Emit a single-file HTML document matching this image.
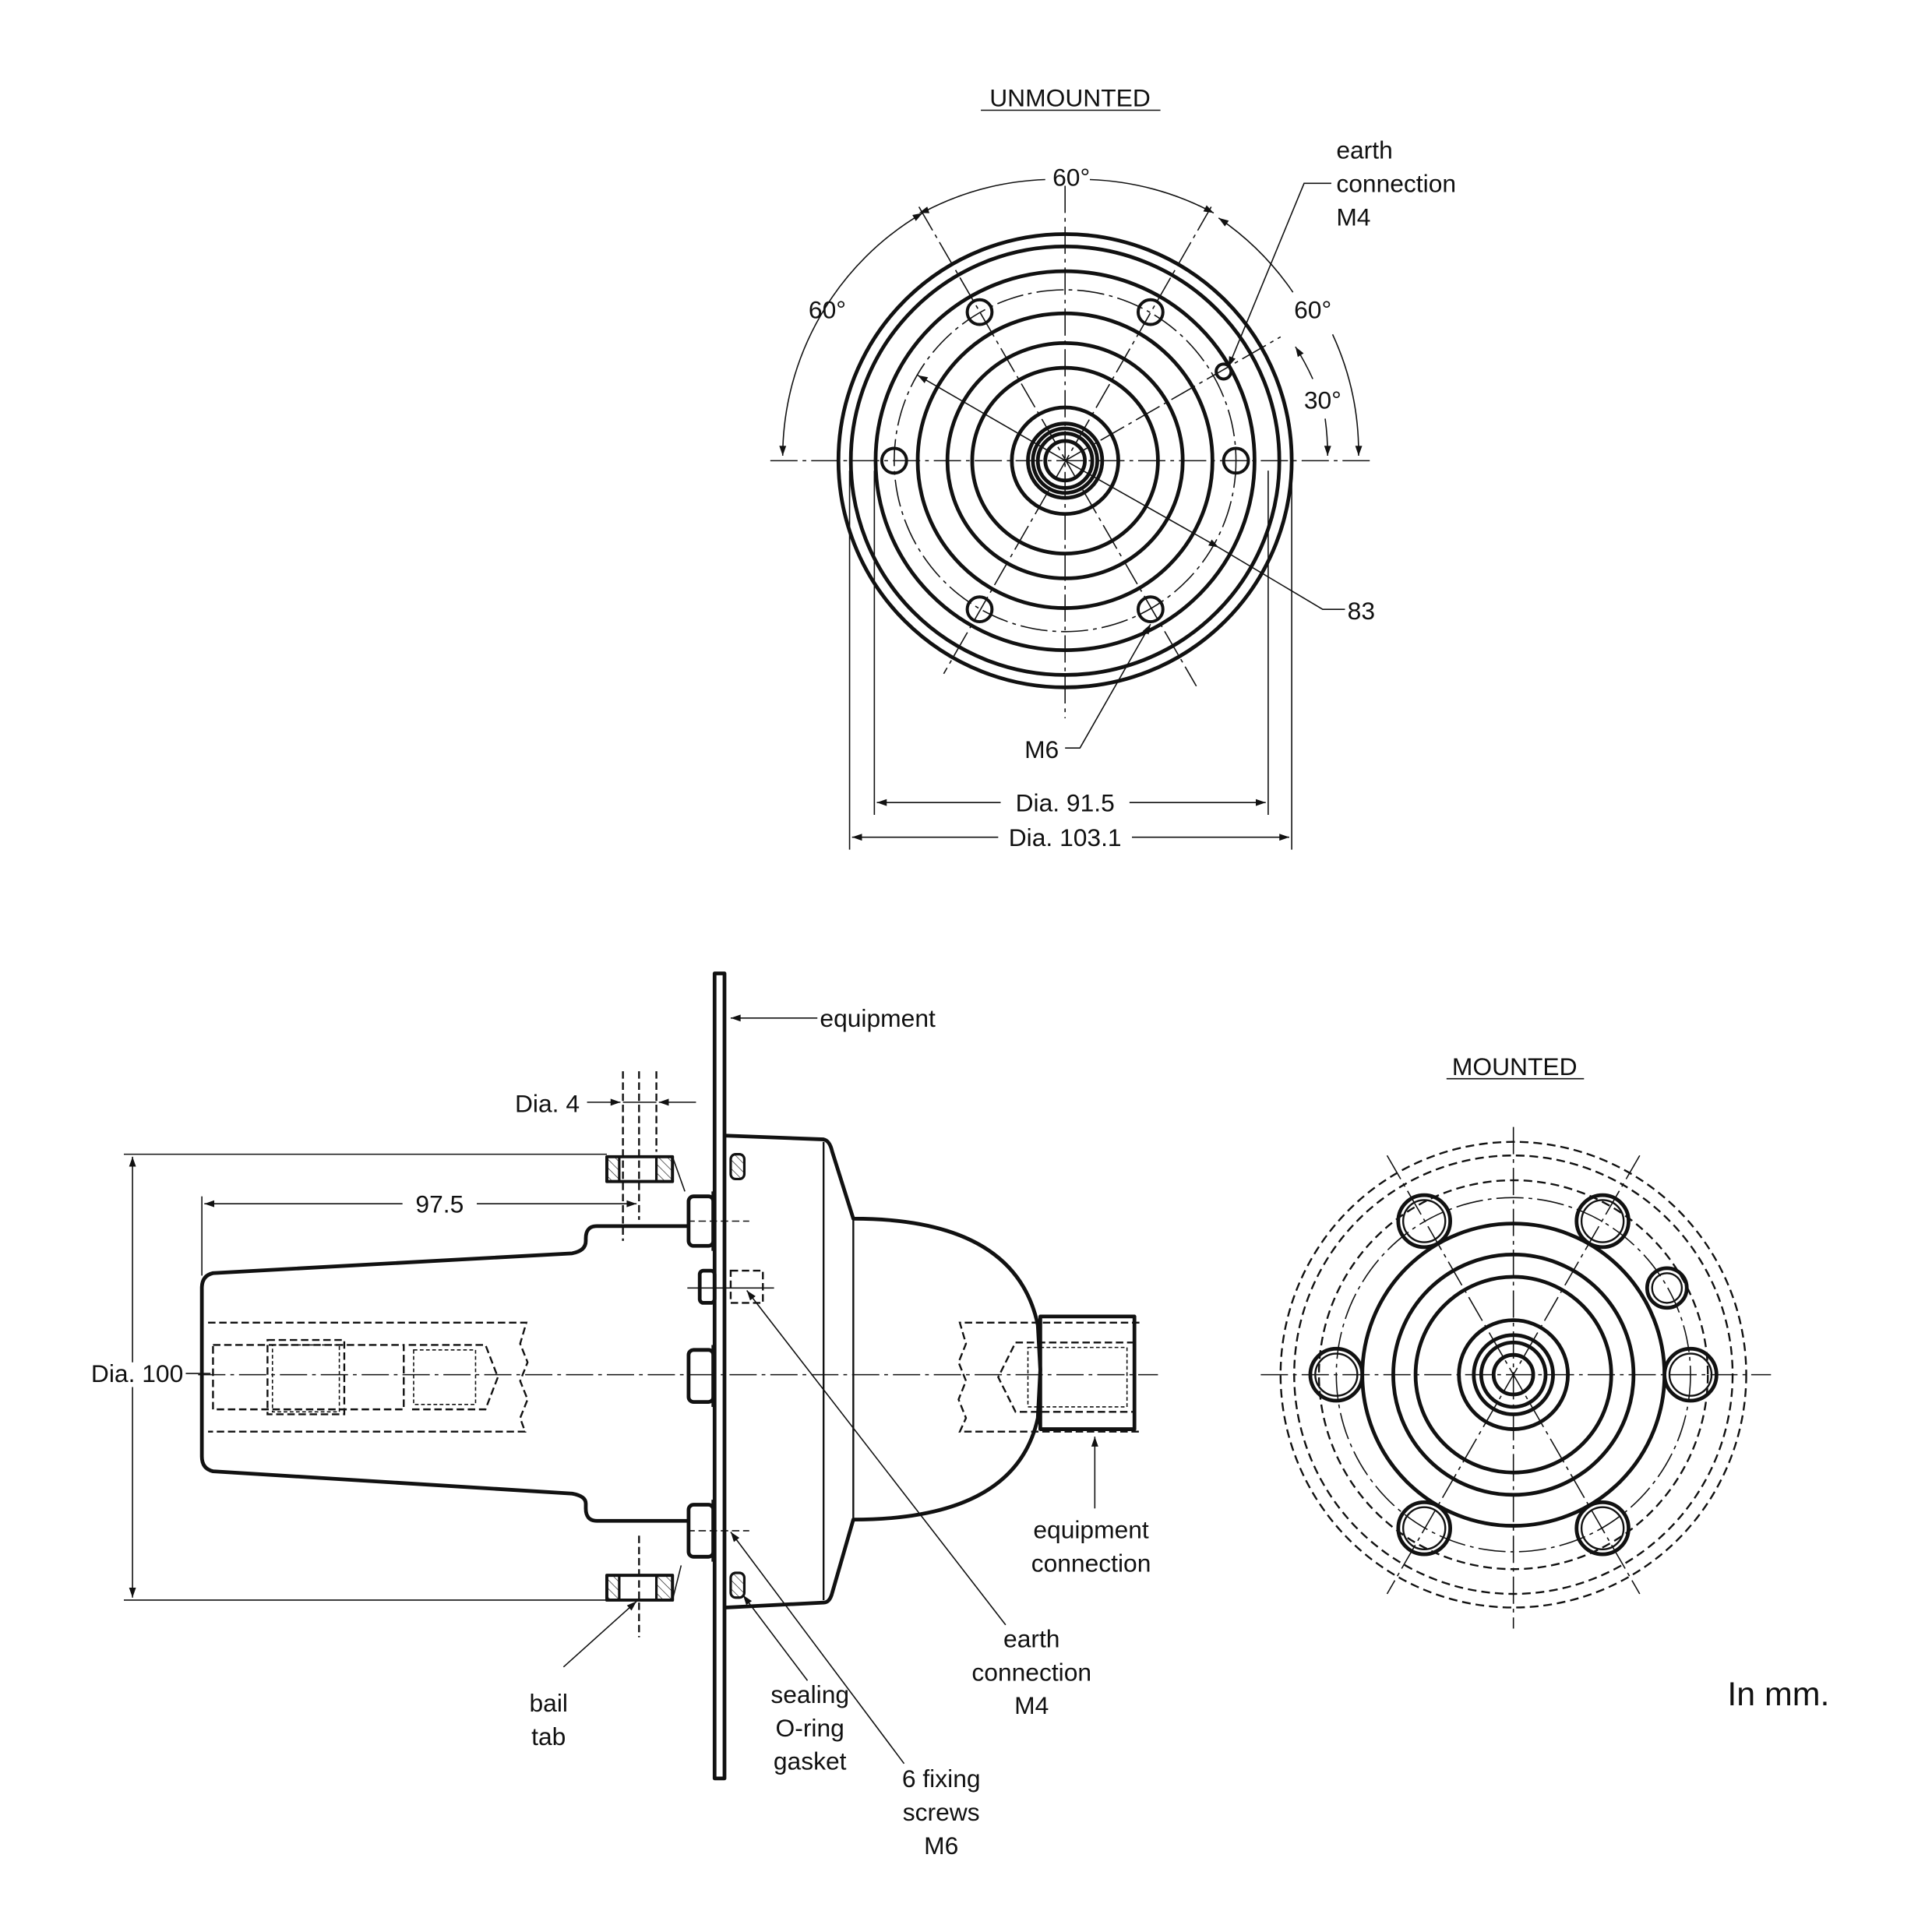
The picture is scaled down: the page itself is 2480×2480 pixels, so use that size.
<!DOCTYPE html>
<html><head><meta charset="utf-8"><style>
html,body{margin:0;padding:0;background:#fff;}
svg{display:block}
text{font-family:"Liberation Sans",sans-serif;fill:#111;font-size:20px}
</style></head><body>
<svg width="2480" height="2480" viewBox="0 0 1560 1560" xmlns="http://www.w3.org/2000/svg">
<defs>
<marker id="a" viewBox="0 0 10 10" refX="10" refY="5" markerWidth="14" markerHeight="8" markerUnits="userSpaceOnUse" orient="auto-start-reverse"><path d="M0,1.5 L10,5 L0,8.5 z" fill="#111"/></marker>
<pattern id="h" width="5" height="5" patternUnits="userSpaceOnUse" patternTransform="rotate(-45)"><line x1="0" y1="0" x2="0" y2="5" stroke="#111" stroke-width="0.8"/></pattern>
</defs>
<g fill="none" stroke="#111">
<!-- ===== UNMOUNTED ===== -->
<g stroke-width="3">
<circle cx="860" cy="372" r="183"/><circle cx="860" cy="372" r="173"/><circle cx="860" cy="372" r="153"/>
<circle cx="860" cy="372" r="119"/><circle cx="860" cy="372" r="95"/><circle cx="860" cy="372" r="75"/>
<circle cx="860" cy="372" r="43"/><circle cx="860" cy="372" r="30"/><circle cx="860" cy="372" r="26"/><circle cx="860" cy="372" r="22"/><circle cx="860" cy="372" r="16"/>
</g>
<g stroke-width="2.5">
<circle cx="722" cy="372" r="10"/><circle cx="998" cy="372" r="10"/>
<circle cx="791" cy="252" r="10"/><circle cx="929" cy="252" r="10"/>
<circle cx="791" cy="492" r="10"/><circle cx="929" cy="492" r="10"/>
<circle cx="988" cy="300" r="6"/>
</g>
<g stroke-width="1" stroke-dasharray="22,4,3,4">
<circle cx="860" cy="372" r="138"/>
<line x1="622" y1="372" x2="1108" y2="372"/>
<line x1="860" y1="150" x2="860" y2="580"/>
<line x1="742" y1="167" x2="966" y2="554"/>
<line x1="978" y1="167" x2="762" y2="544"/>
<line x1="860" y1="372" x2="1034" y2="272"/>
</g>
<g stroke-width="1">
<path d="M632,368 A228,228 0 0 1 745,172" marker-start="url(#a)" marker-end="url(#a)"/>
<path d="M748,170 A228,228 0 0 1 844,145"/><path d="M880,145 A228,228 0 0 1 980,172" marker-end="url(#a)"/>
<path d="M748,170 L742,172" marker-end="url(#a)" stroke="none"/>
<path d="M984,176 A228,228 0 0 1 1044,236" marker-start="url(#a)"/>
<path d="M1076,270 A228,228 0 0 1 1097,368" marker-end="url(#a)"/>
<path d="M1046,280 A212,212 0 0 1 1060,306" marker-start="url(#a)"/>
<path d="M1070,338 A212,212 0 0 1 1072,368" marker-end="url(#a)"/>
<line x1="862" y1="373" x2="741" y2="303" marker-end="url(#a)"/>
<line x1="862" y1="373" x2="984" y2="442" marker-end="url(#a)"/>
<polyline points="984,442 1068,492 1086,492"/>
<polyline points="1075,148 1053,148 992,296" marker-end="url(#a)"/>
<polyline points="860,604 872,604 929,504" marker-end="url(#a)"/>
<line x1="686" y1="380" x2="686" y2="686"/><line x1="706" y1="380" x2="706" y2="658"/>
<line x1="1024" y1="380" x2="1024" y2="658"/><line x1="1043" y1="380" x2="1043" y2="686"/>
<line x1="808" y1="648" x2="708" y2="648" marker-end="url(#a)"/><line x1="912" y1="648" x2="1022" y2="648" marker-end="url(#a)"/>
<line x1="806" y1="676" x2="688" y2="676" marker-end="url(#a)"/><line x1="914" y1="676" x2="1041" y2="676" marker-end="url(#a)"/>
<line x1="792" y1="89" x2="937" y2="89"/>
<line x1="1168" y1="871" x2="1279" y2="871"/>
</g>
<!-- ===== SIDE VIEW ===== -->
<g stroke-width="3" stroke-linejoin="round">
<rect x="577" y="786" width="8" height="650"/>
<path d="M586,917 L665,920 Q670,921 672,930 L689,984 Q820,984 838,1070 L840,1106 L838,1145 Q820,1227 689,1227 L672,1286 Q670,1294 665,1294 L586,1298"/>
<line x1="665" y1="922" x2="665" y2="1292" stroke-width="1.5"/>
<line x1="689" y1="984" x2="689" y2="1227" stroke-width="1.5"/>
<rect x="840" y="1063" width="76" height="91"/>
<path d="M556,990 L482,990 Q473,990 473,1000 L473,1002 Q473,1010 462,1012 L172,1028 Q163,1030 163,1040 L163,1176 Q163,1186 172,1188 L462,1206 Q473,1208 473,1214 L473,1218 Q473,1228 482,1228 L556,1228"/>
<rect x="556" y="966" width="20" height="40" rx="4"/><rect x="556" y="1090" width="20" height="42" rx="4"/><rect x="556" y="1215" width="20" height="42" rx="4"/>
<rect x="565" y="1026" width="12" height="26" rx="3"/>
<line x1="576" y1="962" x2="576" y2="1010"/><line x1="576" y1="1086" x2="576" y2="1136"/><line x1="576" y1="1211" x2="576" y2="1261"/>
<rect x="490" y="934" width="53" height="20" stroke-width="2.5"/><rect x="490" y="1272" width="53" height="20" stroke-width="2.5"/>
</g>
<g stroke-width="1">
<rect x="491" y="935" width="9" height="18" fill="url(#h)" stroke="none"/><rect x="530" y="935" width="12" height="18" fill="url(#h)" stroke="none"/>
<rect x="491" y="1273" width="9" height="18" fill="url(#h)" stroke="none"/><rect x="530" y="1273" width="12" height="18" fill="url(#h)" stroke="none"/>
<line x1="500" y1="934" x2="500" y2="954" stroke-width="2"/><line x1="530" y1="934" x2="530" y2="954" stroke-width="2"/>
<line x1="500" y1="1272" x2="500" y2="1292" stroke-width="2"/><line x1="530" y1="1272" x2="530" y2="1292" stroke-width="2"/>
<line x1="543" y1="934" x2="553" y2="962"/><line x1="543" y1="1292" x2="550" y2="1264"/>
<rect x="590" y="932" width="11" height="20" rx="4" fill="url(#h)" stroke-width="2"/>
<rect x="590" y="1270" width="11" height="20" rx="4" fill="url(#h)" stroke-width="2"/>
<g stroke-dasharray="6,3" stroke-width="1.5">
<path d="M168,1068 L425,1068 L420,1085 L426,1100 L420,1115 L426,1130 L420,1145 L424,1156 L168,1156"/>
<rect x="172" y="1086" width="154" height="52"/><rect x="216" y="1082" width="62" height="60"/>
<path d="M330,1086 L392,1086 L402,1112 L392,1138 L330,1138"/>
<path d="M920,1068 L775,1068 L780,1085 L774,1100 L780,1115 L774,1130 L780,1145 L775,1156 L920,1156"/>
<path d="M916,1084 L820,1084 L806,1112 L820,1140 L916,1140"/>
<rect x="590" y="1026" width="26" height="26"/>
<line x1="503" y1="865" x2="503" y2="1002"/><line x1="530" y1="865" x2="530" y2="930"/>
<line x1="516" y1="865" x2="516" y2="985"/><line x1="516" y1="1240" x2="516" y2="1322"/>
</g>
<g stroke-width="1" stroke-dasharray="3,2">
<rect x="220" y="1086" width="54" height="54"/><rect x="334" y="1090" width="50" height="44"/><rect x="830" y="1088" width="80" height="48"/>
</g>
<line x1="160" y1="1110" x2="935" y2="1110" stroke-dasharray="22,4,3,4"/>
<line x1="555" y1="1040" x2="625" y2="1040"/><line x1="555" y1="986" x2="605" y2="986" stroke-dasharray="6,3"/><line x1="555" y1="1236" x2="605" y2="1236" stroke-dasharray="6,3"/>
<line x1="100" y1="932" x2="490" y2="932"/><line x1="100" y1="1292" x2="490" y2="1292"/>
<line x1="107" y1="1100" x2="107" y2="934" marker-end="url(#a)"/><line x1="107" y1="1120" x2="107" y2="1290" marker-end="url(#a)"/>
<line x1="150" y1="1109" x2="170" y2="1109"/>
<line x1="163" y1="966" x2="163" y2="1030"/>
<line x1="325" y1="972" x2="165" y2="972" marker-end="url(#a)"/><line x1="385" y1="972" x2="514" y2="972" marker-end="url(#a)"/>
<line x1="474" y1="890" x2="501" y2="890" marker-end="url(#a)"/><line x1="562" y1="890" x2="532" y2="890" marker-end="url(#a)"/>
<line x1="503" y1="890" x2="530" y2="890"/>
<line x1="660" y1="822" x2="590" y2="822" marker-end="url(#a)"/>
<line x1="812" y1="1312" x2="603" y2="1042" marker-end="url(#a)"/>
<line x1="730" y1="1424" x2="590" y2="1237" marker-end="url(#a)"/>
<line x1="652" y1="1357" x2="600" y2="1288" marker-end="url(#a)"/>
<line x1="455" y1="1346" x2="514" y2="1293" marker-end="url(#a)"/>
<line x1="884" y1="1218" x2="884" y2="1160" marker-end="url(#a)"/>
</g>
<!-- ===== MOUNTED ===== -->
<g stroke-width="1.5" stroke-dasharray="7,4">
<circle cx="1222" cy="1110" r="188"/><circle cx="1222" cy="1110" r="177"/><circle cx="1222" cy="1110" r="157"/>
</g>
<g stroke-width="1" stroke-dasharray="22,4,3,4">
<circle cx="1222" cy="1110" r="143"/>
<line x1="1018" y1="1110" x2="1430" y2="1110"/><line x1="1222" y1="910" x2="1222" y2="1315"/>
<line x1="1120" y1="933" x2="1324" y2="1287"/><line x1="1324" y1="933" x2="1120" y2="1287"/>
</g>
<g stroke-width="3">
<circle cx="1222" cy="1110" r="122"/><circle cx="1222" cy="1110" r="97"/><circle cx="1222" cy="1110" r="79"/>
<circle cx="1222" cy="1110" r="44"/><circle cx="1222" cy="1110" r="32"/><circle cx="1222" cy="1110" r="26"/><circle cx="1222" cy="1110" r="16"/>
<circle cx="1079" cy="1110" r="21"/><circle cx="1365" cy="1110" r="21"/>
<circle cx="1150" cy="986" r="21"/><circle cx="1294" cy="986" r="21"/>
<circle cx="1150" cy="1234" r="21"/><circle cx="1294" cy="1234" r="21"/>
<circle cx="1346" cy="1040" r="16"/>
</g>
<g stroke-width="1.5">
<circle cx="1079" cy="1110" r="17"/><circle cx="1365" cy="1110" r="17"/>
<circle cx="1150" cy="986" r="17"/><circle cx="1294" cy="986" r="17"/>
<circle cx="1150" cy="1234" r="17"/><circle cx="1294" cy="1234" r="17"/>
<circle cx="1346" cy="1040" r="12"/>
</g>
</g>
<!-- ===== TEXT ===== -->
<text x="864" y="86" text-anchor="middle">UNMOUNTED</text>
<text x="1079" y="128">earth</text><text x="1079" y="155">connection</text><text x="1079" y="182">M4</text>
<text x="865" y="150" text-anchor="middle">60°</text>
<text x="668" y="257" text-anchor="middle">60°</text>
<text x="1060" y="257" text-anchor="middle">60°</text>
<text x="1068" y="330" text-anchor="middle">30°</text>
<text x="1088" y="500">83</text>
<text x="855" y="612" text-anchor="end">M6</text>
<text x="860" y="655" text-anchor="middle">Dia. 91.5</text>
<text x="860" y="683" text-anchor="middle">Dia. 103.1</text>
<text x="662" y="829">equipment</text>
<text x="1223" y="868" text-anchor="middle">MOUNTED</text>
<text x="468" y="898" text-anchor="end">Dia. 4</text>
<text x="355" y="979" text-anchor="middle">97.5</text>
<text x="148" y="1116" text-anchor="end">Dia. 100</text>
<text x="881" y="1242" text-anchor="middle">equipment</text><text x="881" y="1269" text-anchor="middle">connection</text>
<text x="833" y="1330" text-anchor="middle">earth</text><text x="833" y="1357" text-anchor="middle">connection</text><text x="833" y="1384" text-anchor="middle">M4</text>
<text x="443" y="1382" text-anchor="middle">bail</text><text x="443" y="1409" text-anchor="middle">tab</text>
<text x="654" y="1375" text-anchor="middle">sealing</text><text x="654" y="1402" text-anchor="middle">O-ring</text><text x="654" y="1429" text-anchor="middle">gasket</text>
<text x="760" y="1443" text-anchor="middle">6 fixing</text><text x="760" y="1470" text-anchor="middle">screws</text><text x="760" y="1497" text-anchor="middle">M6</text>
<text x="1436" y="1377" text-anchor="middle" style="font-size:27px">In mm.</text>
</svg>
</body></html>
